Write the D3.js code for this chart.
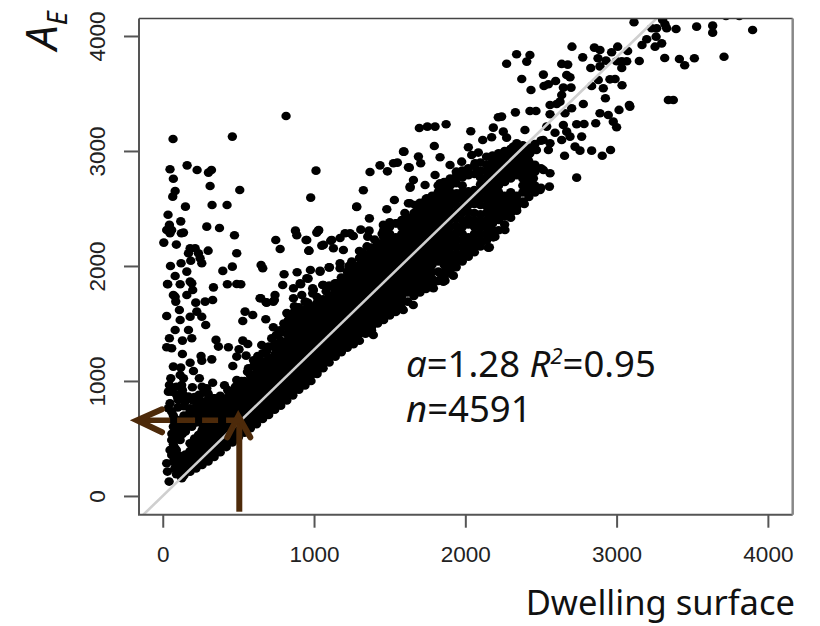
<!DOCTYPE html>
<html><head><meta charset="utf-8">
<script src="https://cdnjs.cloudflare.com/ajax/libs/d3/7.8.5/d3.min.js"></script>
<style>html,body{margin:0;padding:0;background:#fff;overflow:hidden}svg{display:block}</style>
</head><body><div id="chart"></div>
<script>
const xTicks=[0,1000,2000,3000,4000];
const yTicks=[0,1000,2000,3000,4000];
const xDomain=[-157,4164];
const yDomain=[-163,4152];
const xLabel="Dwelling surface";
const fitLine=[[-130,-165],[3280,4172]];
const arrowUp=[[506,-137],[506,640]];
const arrowLeft=[[531,658],[-170,658]];

// Dense band, read column by column: x value and the y values seen at it
const bandX=[140,180,220,260,300,340,380,420,460,500,540,580,620,660,700,740,780,820,860,900,940,980,1020,1060,1100,1140,1180,1220,1260,1300,1340,1380,1420,1460,1500,1540,1580,1620,1660,1700,1740,1780,1820,1860,1900,1940,1980,2020,2060,2100,2140,2180,2220,2260,2300,2340,2380,2420,2460,2500];
const bandY=[
[180,240,290],[210,270,330,390],[240,300,360,420,480],[270,330,390,450,510,570,630,690,750,790],
[300,360,420,480,540,600,660,720,780,840],[340,390,450,510,570,630,690,750,810,850],[380,420,480,540,600,660,720,780,840],[425,450,510,570,630,690,750,810,850],
[465,480,540,600,660,720,780,840,900],[510,570,630,690,750,810,870,930],[550,600,660,720,780,840,900,960,1000],[590,630,690,750,810,870,930,990,1050],
[625,660,720,780,840,900,960,1020,1080,1140],[670,690,750,810,870,930,990,1050,1110,1170],[705,720,780,840,900,960,1020,1080,1140,1200],[750,810,870,930,990,1050,1110,1170,1230,1290],
[785,840,900,960,1020,1080,1140,1200,1260,1320,1350],[830,870,930,990,1050,1110,1170,1230,1290,1350,1410,1470],[875,900,960,1020,1080,1140,1200,1260,1320,1380,1440,1500,1540],[925,990,1050,1110,1170,1230,1290,1350,1410,1470,1530,1590],
[960,1020,1080,1140,1200,1260,1320,1380,1440,1500,1560,1620],[1000,1050,1110,1170,1230,1290,1350,1410,1470,1530,1590,1650],[1060,1080,1140,1200,1260,1320,1380,1440,1500,1560,1620,1680],[1110,1170,1230,1290,1350,1410,1470,1530,1590,1650,1710],
[1160,1200,1260,1320,1380,1440,1500,1560,1620,1680,1740],[1210,1230,1290,1350,1410,1470,1530,1590,1650,1710,1770],[1250,1260,1320,1380,1440,1500,1560,1620,1680,1740,1800,1850],[1290,1350,1410,1470,1530,1590,1650,1710,1770,1830,1890,1950],
[1320,1380,1440,1500,1560,1620,1680,1740,1800,1860,1920,1980],[1350,1410,1470,1530,1590,1650,1710,1770,1830,1890,1950,2010,2070],[1410,1440,1500,1560,1620,1680,1740,1800,1860,1920,1980,2040,2100],[1440,1470,1530,1590,1650,1710,1770,1830,1890,1950,2010,2070,2130,2160],
[1500,1560,1620,1680,1740,1800,1860,1920,1980,2040,2100,2160,2200],[1530,1590,1650,1710,1770,1830,1890,1950,2010,2070,2130,2190,2250,2310],[1570,1620,1680,1740,1800,1860,1920,1980,2040,2100,2160,2220,2280,2340],[1600,1650,1710,1770,1830,1890,1950,2010,2070,2130,2190,2250,2370],
[1630,1680,1740,1800,1860,1920,1980,2040,2100,2160,2220,2280,2340,2400],[1690,1770,1830,1890,1950,2010,2070,2130,2190,2250,2310,2370,2420],[1740,1800,1860,1920,1980,2040,2100,2160,2220,2280,2340,2400,2460],[1770,1830,1890,1950,2010,2070,2130,2190,2250,2310,2370,2430,2490],
[1800,1860,1920,1980,2040,2100,2160,2220,2280,2340,2400,2460,2520,2580],[1830,1890,1950,2010,2070,2130,2190,2250,2310,2370,2430,2490,2550,2610],[1870,2040,2100,2160,2220,2280,2340,2400,2460,2520,2580,2640,2700],[1900,1950,2010,2070,2130,2190,2250,2310,2370,2430,2490,2550,2610,2670,2730],
[1940,1980,2040,2100,2160,2220,2280,2340,2400,2460,2520,2580,2640,2700,2760],[1990,2050,2110,2170,2230,2290,2350,2410,2470,2530,2590,2720,2780,2820],[2040,2100,2160,2220,2280,2340,2400,2460,2520,2580,2640,2700,2770,2830],[2080,2130,2190,2250,2360,2410,2470,2530,2590,2650,2790,2850],
[2120,2160,2220,2280,2340,2400,2460,2540,2600,2660,2800,2870],[2170,2210,2270,2330,2390,2450,2530,2590,2650,2710,2770,2830,2900],[2220,2280,2340,2400,2460,2520,2580,2640,2700,2760,2820,2880,2950],[2260,2310,2370,2430,2490,2550,2610,2670,2730,2790,2850,2910,2960],
[2310,2400,2460,2520,2580,2640,2700,2760,2820,2880,2940,2980],[2360,2430,2490,2550,2610,2730,2790,2850,2910,2970,3000],[2420,2460,2520,2580,2640,2760,2820,2880,2940,3000,3020],[2480,2550,2610,2790,2850,2910,2970,3030],
[2560,2640,2700,2760,2820,2880,2940,3000,3050],[2600,2670,2730,2790,2850,2910,2970,3030],[2640,2700,2820,2880,3060],[2680,2850,3090]];

// Points standing apart from the band, upper left of the plot
const scatterHigh=[[68,3104],[460,3125],[815,3304],[1591,2994],[48,2841],[70,2759],[161,2875],[227,2835],[302,2812],[322,2835],[82,2652],[66,2603],[313,2696],[509,2661],[150,2516],[326,2530],[425,2530],[1013,2829],[978,2594],[35,2446],[119,2388],[44,2357],[26,2313],[59,2313],[48,2284],[137,2290],[123,2284],[291,2342],[375,2330],[474,2267],[7,2203],[90,2186],[300,2133],[181,2154],[214,2154],[170,2110],[236,2110],[247,2067],[185,2046],[258,2023],[121,2023],[51,2000],[489,2110],[460,1994],[397,1957],[650,2009],[661,1980],[747,2226],[776,2148],[877,2307],[886,2267],[947,2226],[965,2133],[1018,2290],[1031,2313],[1051,2177],[1110,2220],[1172,2243],[1238,2284],[1260,2261],[1309,2316],[1364,2307],[1355,2255],[1366,2414],[1282,2513],[1326,2658],[1370,2817],[1436,2875],[1485,2823],[1525,2893],[1551,2899],[1481,2493],[1531,2574],[1624,2858],[1635,2690],[1624,2545]];
const scatterMid=[[802,1928],[888,1945],[976,1965],[1040,1959],[1102,1988],[961,1890],[793,1835],[864,1806],[912,1841],[991,1806],[1057,1835],[1150,1849],[335,1814],[427,1841],[489,1843],[516,1841],[82,1913],[159,1951],[33,1841],[115,1841],[192,1849],[82,1733],[159,1748],[198,1791],[86,1690],[218,1681],[280,1690],[330,1704],[648,1719],[687,1681],[742,1748],[731,1690],[864,1719],[919,1748],[991,1762],[952,1681],[1172,2023],[31,1843],[181,1864],[70,1748],[26,1565],[110,1617],[115,1530],[181,1559],[225,1603],[258,1559],[284,1487],[170,1443],[82,1443],[192,1371],[130,1351],[44,1371],[26,1293],[59,1284],[130,1235],[352,1357],[368,1299],[434,1293],[504,1275],[529,1351],[562,1322],[489,1212],[551,1220],[628,1217],[654,1313],[687,1261],[742,1328],[544,1603],[595,1574],[529,1522],[681,1536],[643,1719],[683,1684],[738,1704],[731,1467],[771,1414],[253,1217],[258,1177],[324,1188],[181,1159],[203,1087],[70,1125],[119,1116],[463,1130],[566,1110]];
const scatterLow=[[115,1052],[137,1023],[53,1023],[242,1023],[44,965],[125,965],[196,945],[330,985],[408,962],[489,1009],[511,980],[291,936],[269,899],[59,907],[92,878],[137,878],[170,849],[103,835],[48,806],[148,820],[286,791],[339,797],[225,791],[37,762],[180,762],[466,893],[456,864],[489,922],[401,777],[434,791],[511,878],[37,907],[170,864],[59,733],[180,733],[137,661],[180,661],[70,661],[225,704],[324,719],[379,733],[258,719],[70,603],[103,559],[59,487],[48,400],[115,487],[81,414],[192,603],[258,632],[236,530],[180,458],[126,328],[181,357],[26,284],[31,212],[42,125],[115,226],[126,154],[92,313],[59,357],[137,270],[70,700],[100,660],[140,700],[220,740],[260,760],[300,800],[340,850],[100,850],[130,620],[160,600],[100,600],[220,640],[260,560],[230,470],[200,400],[170,330],[150,300],[100,260],[90,190],[80,240],[70,300],[90,400],[70,450],[130,540],[100,510],[60,540],[200,330],[240,420],[180,250],[300,890],[250,830],[210,860],[380,870],[430,920],[100,770],[140,780],[200,830],[130,920],[90,950],[240,880],[260,950],[170,700],[150,560],[210,500],[110,350],[150,360]];
const scatterTop=[[3115,4119],[3265,4067],[3232,4067],[3304,4139],[3331,4067],[3320,4101],[3393,4061],[3529,4081],[3635,4090],[3635,4029],[3899,4052],[3723,4174],[3811,4174],[3261,3994],[3199,3971],[3168,3922],[3254,3907],[3298,3936],[3150,3783],[3318,3809],[3415,3800],[3450,3745],[3514,3806],[3710,3820],[2705,3907],[2853,3899],[2890,3878],[2967,3858],[3007,3907],[3073,3869],[2776,3814],[2877,3806],[2930,3786],[3000,3780],[3034,3780],[3067,3780],[3034,3722],[2829,3722],[2890,3736],[2637,3757],[2677,3751],[2339,3841],[2427,3835],[2406,3777],[2273,3759],[2373,3626],[2516,3664],[2597,3609],[2670,3661],[2692,3641],[2520,3565],[2549,3580],[2434,3530],[2879,3617],[2835,3565],[2956,3623],[2990,3626],[3036,3571],[2912,3545],[2648,3551],[2699,3551],[2637,3487],[2626,3429],[2926,3458],[3342,3443],[3375,3443],[3084,3400],[3016,3357],[3088,3386]];
const scatterUpper=[[2560,3400],[2604,3409],[2780,3409],[2703,3371],[2659,3328],[2560,3319],[2240,3299],[2218,3293],[2331,3336],[2427,3348],[2467,3348],[2890,3328],[2945,3313],[2978,3255],[3000,3206],[2862,3241],[1696,3200],[1749,3212],[1800,3212],[1873,3232],[2036,3171],[2185,3203],[2251,3168],[2273,3116],[2115,3096],[2174,3119],[2394,3183],[2538,3212],[2648,3226],[2736,3232],[2785,3235],[2670,3168],[2593,3159],[2769,3125],[2692,3125],[2637,3096],[1795,3043],[2020,3032],[1595,2994],[1690,2951],[1833,2945],[1705,2893],[1630,2855],[2086,2986],[2042,2965],[2064,2893],[2340,3067],[2318,3038],[2515,3096],[2560,3067],[2549,3009],[2470,3009],[2427,2980],[2725,3038],[2758,3003],[2835,3003],[2905,2959],[2960,3009],[2656,2959],[2736,2768],[2560,2806],[2556,2690],[2494,2661],[2450,2762],[2516,2835],[2390,2539],[2340,2516],[2262,2313],[2185,2249],[2152,2159],[1954,2090],[1921,1916],[1855,1864],[1789,1806],[1833,1936],[1657,2748],[1635,2681],[1734,2704],[1800,2791],[1899,2878],[1976,2907],[1833,2719]];
const scatterEdge=[[1282,2516],[1029,2307],[952,2226],[967,2133],[1205,2284],[1117,2226],[1062,2183],[1128,2154],[1194,2139],[1040,1951],[1099,1988],[1172,1980],[1238,1951],[1326,2110],[1249,2038],[952,1893],[908,1849],[1062,1835],[996,1791],[1139,1849],[941,1690],[1051,1690],[1458,2357],[1546,2371],[1634,2545],[1668,2530],[1745,2588],[1877,2617],[1943,2632],[1866,1872],[1822,1951],[1656,1661],[1392,1400],[1590,1617],[2159,2162],[2075,2183],[1943,2096],[1921,2226],[2108,2212],[2196,2255],[775,1440],[800,1500],[830,1530],[700,1300],[660,1240],[600,1130],[560,1080],[520,1000],[480,950],[440,900],[860,1590],[900,1640],[960,1680],[1020,1730],[1080,1780],[1130,1810],[1180,1900],[1150,1830],[1230,2000],[1100,1830],[870,1650],[820,1590],[750,1400],[720,1370],[630,1200],[600,1180],[1300,2130],[1350,2170],[1400,2230],[1450,2280],[1500,2380],[1600,2460],[1700,2550]];

const W=820,H=626,ink="#000",axisCol="#555",arrowCol="#4d2a0a";
const x=d3.scaleLinear().domain(xDomain).range([139,792.7]);
const y=d3.scaleLinear().domain(yDomain).range([514.7,18.5]);
const svg=d3.select("#chart").append("svg").attr("width",W).attr("height",H).style("background","#fff");
svg.append("defs").append("clipPath").attr("id","plot").append("rect")
  .attr("x",x.range()[0]).attr("y",y.range()[1]).attr("width",x.range()[1]-x.range()[0]).attr("height",y.range()[0]-y.range()[1]);

const bandPts=bandX.flatMap((v,i)=>bandY[i].map(w=>[v,w]));
const pts=[...bandPts,...scatterHigh,...scatterMid,...scatterLow,...scatterTop,...scatterUpper,...scatterEdge];
const plot=svg.append("g").attr("clip-path","url(#plot)");
plot.append("g").selectAll("ellipse").data(pts).join("ellipse")
  .attr("cx",d=>x(d[0])).attr("cy",d=>y(d[1])).attr("rx",4.7).attr("ry",4.3).attr("fill",ink);
plot.append("line").attr("x1",x(fitLine[0][0])).attr("y1",y(fitLine[0][1])).attr("x2",x(fitLine[1][0])).attr("y2",y(fitLine[1][1]))
  .attr("stroke","#cfcfcf").attr("stroke-width",2.6);

// frame
svg.append("path").attr("d",`M${x.range()[0]},${y.range()[1]}H${x.range()[1]}`).attr("stroke","#444").attr("stroke-width",1.5);
svg.append("path").attr("d",`M${x.range()[0]},${y.range()[1]}V${y.range()[0]}H${x.range()[1]}`).attr("fill","none").attr("stroke",axisCol).attr("stroke-width",2);
svg.append("path").attr("d",`M${x.range()[1]},${y.range()[1]}V${y.range()[0]}`).attr("stroke","#888").attr("stroke-width",2.5);

// axes
const gx=svg.append("g").attr("transform",`translate(0,${y.range()[0]})`).call(d3.axisBottom(x).tickValues(xTicks).tickSize(13).tickPadding(18).tickFormat(d3.format("d")));
const gy=svg.append("g").attr("transform",`translate(${x.range()[0]},0)`).call(d3.axisLeft(y).tickValues(yTicks).tickSize(15).tickFormat(d3.format("d")));
gx.select(".domain").remove();gy.select(".domain").remove();
[gx,gy].forEach(g=>{g.selectAll("line").attr("stroke",axisCol).attr("stroke-width",2);
  g.selectAll("text").attr("fill","#222").style("font-family","'Liberation Sans',Arial,sans-serif").style("font-size","22.5px");});
gy.selectAll("text").attr("x",null).attr("dy",null).attr("y",null).attr("text-anchor","middle")
  .attr("transform","translate(-34,0) rotate(-90)");

// arrows
const arrows=svg.append("g").attr("stroke",arrowCol).attr("fill","none").attr("stroke-linecap","butt");
arrows.append("line").attr("x1",x(arrowUp[0][0])).attr("y1",y(arrowUp[0][1])).attr("x2",x(arrowUp[1][0])).attr("y2",y(arrowUp[1][1])).attr("stroke-width",6);
const tipU=[x(arrowUp[0][0])-1,y(arrowUp[1][1])-6];
arrows.append("path").attr("d",`M${tipU[0]-11},${tipU[1]+21}L${tipU[0]},${tipU[1]}L${tipU[0]+12},${tipU[1]+21}`).attr("stroke-width",6).attr("stroke-linecap","round");
arrows.append("line").attr("x1",x(arrowLeft[0][0])).attr("y1",y(arrowLeft[0][1])).attr("x2",x(arrowLeft[1][0])+2).attr("y2",y(arrowLeft[1][1])).attr("stroke-width",5.5).attr("stroke-dasharray","17,8,16,7,18,7,32");
const tipL=[x(arrowLeft[1][0]),y(arrowLeft[1][1])];
arrows.append("path").attr("d",`M${tipL[0]+25},${tipL[1]-11}L${tipL[0]},${tipL[1]}L${tipL[0]+25},${tipL[1]+12}`).attr("stroke-width",6).attr("stroke-linecap","round");

// text
const sans="'Noto Sans','Open Sans',sans-serif";
svg.append("text").attr("x",795).attr("y",615).attr("text-anchor","end").style("font-family",sans).style("font-size","34.5px").attr("fill","#111").text(xLabel);
const t1=svg.append("text").attr("x",406).attr("y",377).style("font-family",sans).style("font-size","36.5px").attr("fill","#111");
t1.append("tspan").style("font-style","italic").text("a");
t1.append("tspan").text("=1.28 ");
t1.append("tspan").style("font-style","italic").text("R");
t1.append("tspan").attr("dy",-13).style("font-size","22px").style("font-style","italic").text("2");
t1.append("tspan").attr("dy",13).text("=0.95");
const t2=svg.append("text").attr("x",406).attr("y",422).style("font-family",sans).style("font-size","36.5px").attr("fill","#111");
t2.append("tspan").style("font-style","italic").text("n");
t2.append("tspan").text("=4591");
const ae=svg.append("text").attr("transform","translate(57,50) rotate(-90)").style("font-family",sans).style("font-style","italic").style("font-size","44px").attr("fill","#111");
ae.append("tspan").text("A");
ae.append("tspan").attr("dy",10).style("font-size","27px").text("E");
</script></body></html>
